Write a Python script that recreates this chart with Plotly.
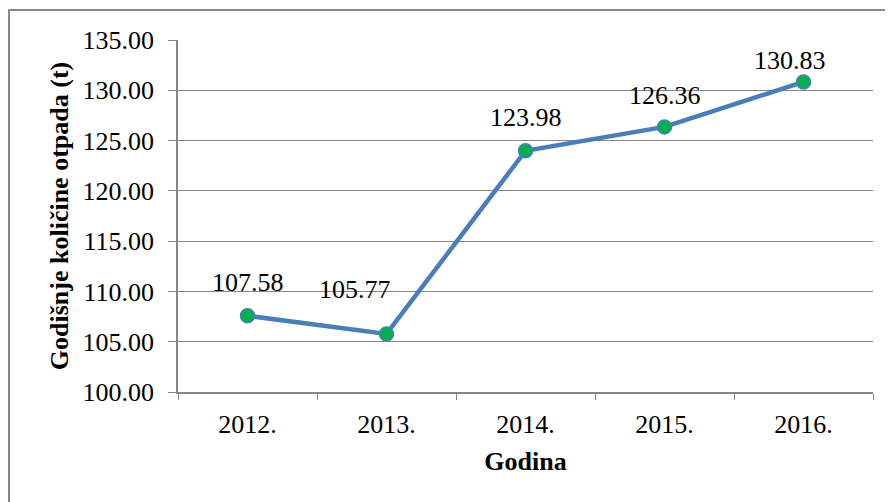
import plotly.graph_objects as go

years = ["2012.", "2013.", "2014.", "2015.", "2016."]
values = [107.58, 105.77, 123.98, 126.36, 130.83]
y_ticks = [100, 105, 110, 115, 120, 125, 130, 135]
y_title = "Godišnje količine otpada (t)"
x_title = "Godina"

# label offsets (style only)
label_dx = [0, -32, 0, 0, -14]
label_dy = [33, 44, 33, 31, 21]

FONT = "Liberation Serif"
FS = 26
GRID = "#878787"

# page body has an 8px margin; compensate
OFF = 8
W, H = 893 - OFF, 502 - OFF
L, R, T, B = 178 - OFF, 20, 40 - OFF, 110
PW, PH = W - L - R, H - T - B

fig = go.Figure()
fig.add_trace(go.Scatter(
    x=years, y=values, mode="lines+markers",
    line=dict(color="#4A7EBB", width=4.5),
    marker=dict(size=14, color="#00B050", line=dict(color="#4A7EBB", width=1.5)),
    showlegend=False, hoverinfo="skip",
))

for i, v in enumerate(values):
    fig.add_annotation(x=i, y=v, xref="x", yref="y", text=f"{v:.2f}", showarrow=False,
                       xshift=label_dx[i], yshift=label_dy[i],
                       font=dict(family=FONT, size=FS, color="black"))

fig.add_shape(type="rect", xref="paper", yref="paper",
              x0=(9 - OFF - L) / PW, x1=1.2, y0=-0.6, y1=(T + PH - (10 - OFF)) / PH,
              line=dict(color=GRID, width=2), layer="below")

fig.update_layout(
    width=W, height=H,
    margin=dict(l=L, r=R, t=T, b=B),
    paper_bgcolor="white", plot_bgcolor="white",
    font=dict(family=FONT, size=FS, color="black"),
    xaxis=dict(
        type="category", tickson="boundaries", ticks="outside", ticklen=6,
        tickcolor=GRID, showline=True, linecolor=GRID, linewidth=1.5,
        showgrid=False, range=[-0.5, 4.5],
        title=dict(text=f"<b>{x_title}</b>", standoff=14, font=dict(family=FONT, size=FS)),
        tickfont=dict(family=FONT, size=FS), ticklabelstandoff=8,
    ),
    yaxis=dict(
        range=[100, 135], tickvals=y_ticks,
        ticktext=[f"{t:.2f}" for t in y_ticks],
        ticks="outside", ticklen=8, tickcolor=GRID,
        showline=True, linecolor=GRID, linewidth=1.5,
        showgrid=True, gridcolor=GRID, gridwidth=1.2, zeroline=False,
        title=dict(text=f"<b>{y_title}</b>", standoff=6, font=dict(family=FONT, size=FS)),
        tickfont=dict(family=FONT, size=FS), ticklabelstandoff=9,
    ),
)

fig.write_html("out.html")
